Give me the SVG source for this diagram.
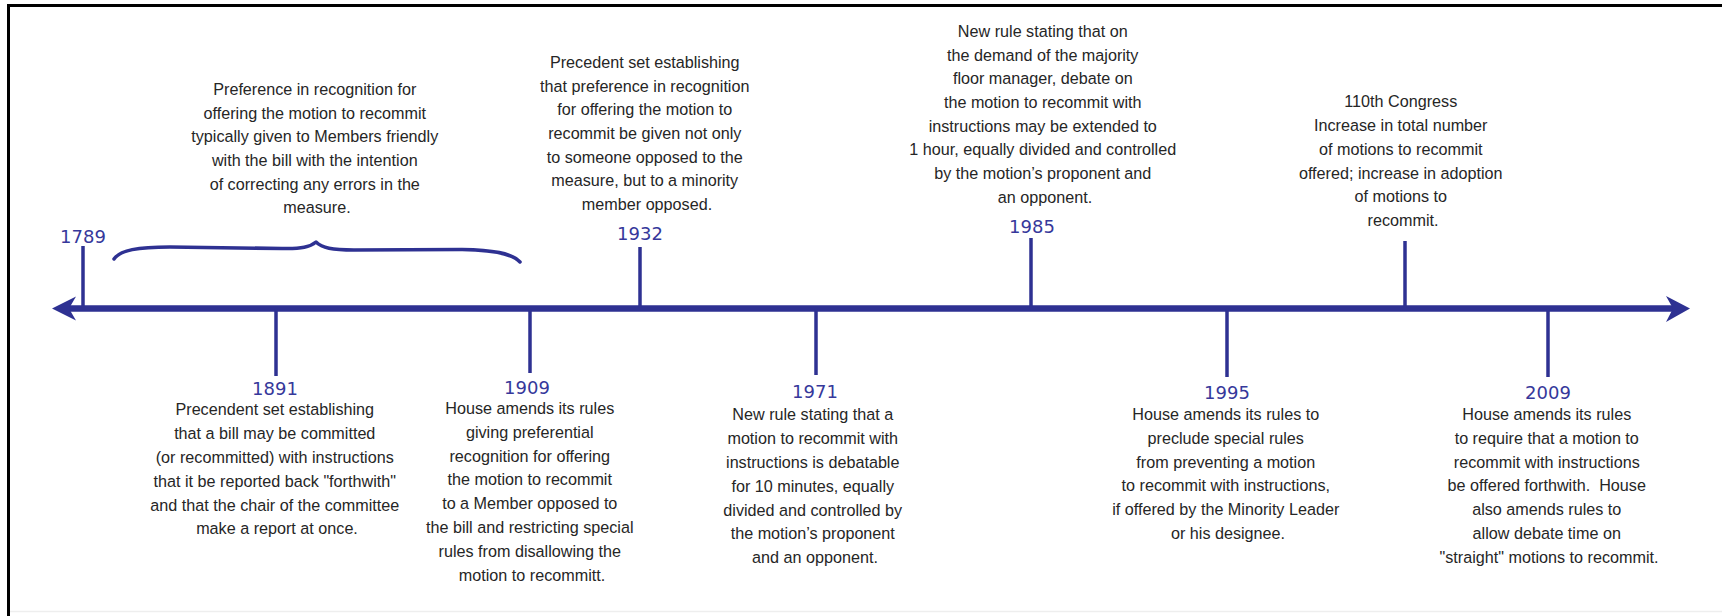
<svg xmlns="http://www.w3.org/2000/svg" width="1722" height="616" viewBox="0 0 1722 616">
  <defs>
    <style>
      .desc { font-family: "Liberation Sans", Arial, sans-serif; font-size: 17.2px; fill: #262626; text-anchor: middle; }
      .year { font-family: "DejaVu Sans", Verdana, sans-serif; font-size: 18px; fill: #36389b; text-anchor: middle; }
      .axis { stroke: #2e3192; stroke-width: 6.5; fill: none; }
      .tick { stroke: #2e3192; stroke-width: 3.5; fill: none; }
      .brace { stroke: #2e3192; stroke-width: 3.5; fill: none; stroke-linecap: round; stroke-linejoin: round; }
      .head { fill: #2e3192; }
    </style>
  </defs>
  <rect x="0" y="0" width="1722" height="616" fill="#ffffff"/>
  <!-- frame -->
  <line x1="7" y1="5.5" x2="1722" y2="5.5" stroke="#000" stroke-width="3"/>
  <line x1="8.5" y1="4" x2="8.5" y2="616" stroke="#000" stroke-width="3"/>
  <line x1="10" y1="611.5" x2="1722" y2="611.5" stroke="#eeeeee" stroke-width="1.5"/>

  <g id="connectors">
    <line class="axis" x1="62" y1="308.5" x2="1680" y2="308.5"/>
    <path class="head" d="M52,308.5 L76,296.5 L69,308.5 L76,320.5 Z"/>
    <path class="head" d="M1690,308.5 L1666,296 L1673,308.5 L1666,322 Z"/>
    <line class="tick" x1="83" y1="246" x2="83" y2="308"/>
    <line class="tick" x1="276" y1="309" x2="276" y2="376"/>
    <line class="tick" x1="530" y1="309" x2="530" y2="373"/>
    <line class="tick" x1="640" y1="247" x2="640" y2="308"/>
    <line class="tick" x1="816" y1="309" x2="816" y2="375"/>
    <line class="tick" x1="1031" y1="238" x2="1031" y2="308"/>
    <line class="tick" x1="1227" y1="309" x2="1227" y2="377"/>
    <line class="tick" x1="1405" y1="241" x2="1405" y2="308"/>
    <line class="tick" x1="1548" y1="309" x2="1548" y2="377"/>
  </g>

  <g id="node-1789">
    <text class="year" x="83" y="243">1789</text>
    <path class="brace" d="M114,259 C120,250 138,247 170,247 L282,248.5 C302,249 310,247 316,242 C322,248 332,250 354,250 L462,249.5 C492,250 512,253 520,262"/>
    <g transform="translate(317,0) scale(0.94,1)">
      <text class="desc">
        <tspan x="0" y="95">Preference in recognition for</tspan>
        <tspan x="0" y="118.7">offering the motion to recommit</tspan>
        <tspan x="0" y="142.4">typically given to Members friendly</tspan>
        <tspan x="0" y="166.1">with the bill with the intention</tspan>
        <tspan x="0" y="189.8">of correcting any errors in the</tspan>
        <tspan x="0" y="213.5">measure.</tspan>
      </text>
    </g>
  </g>

  <g id="node-1891">
    <text class="year" x="275" y="395">1891</text>
    <g transform="translate(277,0) scale(0.94,1)">
      <text class="desc">
        <tspan x="0" y="415.5">Precendent set establishing</tspan>
        <tspan x="0" y="439.3">that a bill may be committed</tspan>
        <tspan x="0" y="463.1">(or recommitted) with instructions</tspan>
        <tspan x="0" y="486.9">that it be reported back "forthwith"</tspan>
        <tspan x="0" y="510.7">and that the chair of the committee</tspan>
        <tspan x="0" y="534.5">make a report at once.</tspan>
      </text>
    </g>
  </g>

  <g id="node-1909">
    <text class="year" x="527" y="394">1909</text>
    <g transform="translate(532,0) scale(0.94,1)">
      <text class="desc">
        <tspan x="0" y="414">House amends its rules</tspan>
        <tspan x="0" y="437.8">giving preferential</tspan>
        <tspan x="0" y="461.6">recognition for offering</tspan>
        <tspan x="0" y="485.4">the motion to recommit</tspan>
        <tspan x="0" y="509.2">to a Member opposed to</tspan>
        <tspan x="0" y="533">the bill and restricting special</tspan>
        <tspan x="0" y="556.8">rules from disallowing the</tspan>
        <tspan x="0" y="580.6">motion to recommitt.</tspan>
      </text>
    </g>
  </g>

  <g id="node-1932">
    <text class="year" x="640" y="240">1932</text>
    <g transform="translate(647,0) scale(0.94,1)">
      <text class="desc">
        <tspan x="0" y="68">Precedent set establishing</tspan>
        <tspan x="0" y="91.7">that preference in recognition</tspan>
        <tspan x="0" y="115.4">for offering the motion to</tspan>
        <tspan x="0" y="139.1">recommit be given not only</tspan>
        <tspan x="0" y="162.8">to someone opposed to the</tspan>
        <tspan x="0" y="186.5">measure, but to a minority</tspan>
        <tspan x="0" y="210.2">member opposed.</tspan>
      </text>
    </g>
  </g>

  <g id="node-1971">
    <text class="year" x="815" y="398">1971</text>
    <g transform="translate(815,0) scale(0.94,1)">
      <text class="desc">
        <tspan x="0" y="420.5">New rule stating that a</tspan>
        <tspan x="0" y="444.3">motion to recommit with</tspan>
        <tspan x="0" y="468.1">instructions is debatable</tspan>
        <tspan x="0" y="491.9">for 10 minutes, equally</tspan>
        <tspan x="0" y="515.7">divided and controlled by</tspan>
        <tspan x="0" y="539.5">the motion’s proponent</tspan>
        <tspan x="0" y="563.3">and an opponent.</tspan>
      </text>
    </g>
  </g>

  <g id="node-1985">
    <text class="year" x="1032" y="233">1985</text>
    <g transform="translate(1045,0) scale(0.94,1)">
      <text class="desc">
        <tspan x="0" y="37">New rule stating that on</tspan>
        <tspan x="0" y="60.7">the demand of the majority</tspan>
        <tspan x="0" y="84.4">floor manager, debate on</tspan>
        <tspan x="0" y="108.1">the motion to recommit with</tspan>
        <tspan x="0" y="131.8">instructions may be extended to</tspan>
        <tspan x="0" y="155.5">1 hour, equally divided and controlled</tspan>
        <tspan x="0" y="179.2">by the motion’s proponent and</tspan>
        <tspan x="0" y="202.9">an opponent.</tspan>
      </text>
    </g>
  </g>

  <g id="node-1995">
    <text class="year" x="1227" y="399">1995</text>
    <g transform="translate(1228,0) scale(0.94,1)">
      <text class="desc">
        <tspan x="0" y="420">House amends its rules to</tspan>
        <tspan x="0" y="443.8">preclude special rules</tspan>
        <tspan x="0" y="467.6">from preventing a motion</tspan>
        <tspan x="0" y="491.4">to recommit with instructions,</tspan>
        <tspan x="0" y="515.2">if offered by the Minority Leader</tspan>
        <tspan x="0" y="539">or his designee.</tspan>
      </text>
    </g>
  </g>

  <g id="node-110th">
    <g transform="translate(1403,0) scale(0.94,1)">
      <text class="desc">
        <tspan x="0" y="107.5">110th Congress</tspan>
        <tspan x="0" y="131.2">Increase in total number</tspan>
        <tspan x="0" y="154.9">of motions to recommit</tspan>
        <tspan x="0" y="178.6">offered; increase in adoption</tspan>
        <tspan x="0" y="202.3">of motions to</tspan>
        <tspan x="0" y="226">recommit.</tspan>
      </text>
    </g>
  </g>

  <g id="node-2009">
    <text class="year" x="1548" y="399">2009</text>
    <g transform="translate(1549,0) scale(0.94,1)">
      <text class="desc">
        <tspan x="0" y="420">House amends its rules</tspan>
        <tspan x="0" y="443.8">to require that a motion to</tspan>
        <tspan x="0" y="467.6">recommit with instructions</tspan>
        <tspan x="0" y="491.4">be offered forthwith.&#160; House</tspan>
        <tspan x="0" y="515.2">also amends rules to</tspan>
        <tspan x="0" y="539">allow debate time on</tspan>
        <tspan x="0" y="562.8">"straight" motions to recommit.</tspan>
      </text>
    </g>
  </g>
</svg>
